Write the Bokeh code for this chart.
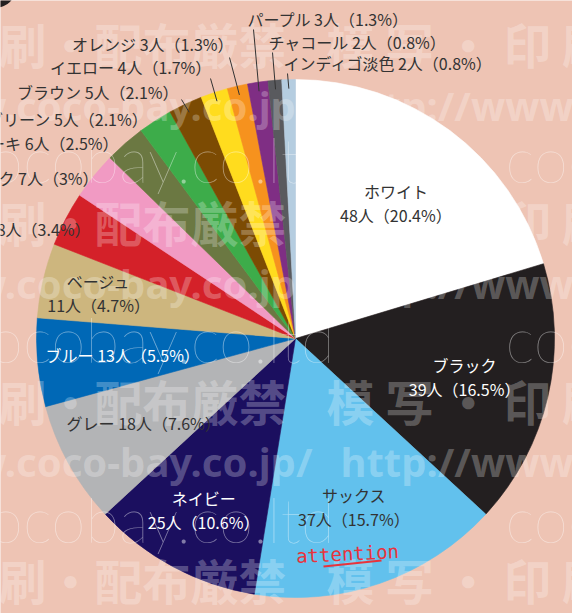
import numpy as np
from bokeh.plotting import figure
from bokeh.models import Range1d, ColumnDataSource
from bokeh.core.properties import value
from bokeh.embed import file_html
from bokeh.resources import INLINE

# ---------------- data ----------------
names = ["ホワイト", "ブラック", "サックス", "ネイビー", "グレー", "ブルー", "ベージュ",
         "レッド", "ピンク", "カーキ", "グリーン", "ブラウン", "イエロー", "オレンジ",
         "パープル", "チャコール", "インディゴ淡色"]
counts = [48, 39, 37, 25, 18, 13, 11, 8, 7, 6, 5, 5, 4, 3, 3, 2, 2]
pcts = [20.4, 16.5, 15.7, 10.6, 7.6, 5.5, 4.7, 3.4, 3, 2.5, 2.1, 2.1, 1.7, 1.3, 1.3, 0.8, 0.8]
colors = ["#ffffff", "#231f20", "#62c1ed", "#1b0f5f", "#b3b4b6", "#0068b6", "#cdb67e",
          "#d42129", "#f19ac3", "#6b7842", "#3dac4a", "#7c4b03", "#ffdc1e", "#f6921e",
          "#7f2e84", "#595a5e", "#b5cde0"]

# ---------------- layout ----------------
W, H = 572, 613
def Y(py):
    return H - py

CX, CY, R = 295, Y(338), 259
BG = "#eec4b4"
FONT = value("Noto Sans CJK JP")
DARK = "#333333"

p = figure(width=W, height=H, x_range=Range1d(0, W), y_range=Range1d(0, H),
           output_backend="svg", toolbar_location=None, x_axis_type=None, y_axis_type=None,
           min_border=0, background_fill_color=BG, border_fill_color=BG,
           outline_line_color=None)
p.xgrid.visible = False
p.ygrid.visible = False

total = float(sum(counts))
cum = np.concatenate([[0.0], np.cumsum(counts)]) / total
start = np.pi / 2 - 2 * np.pi * cum[:-1]
end = np.pi / 2 - 2 * np.pi * cum[1:]
mid = (start + end) / 2

src = ColumnDataSource(dict(start=start, end=end, color=colors))
p.wedge(x=CX, y=CY, radius=R, start_angle="start", end_angle="end", direction="clock",
        fill_color="color", line_color="color", line_width=0.6, source=src)

# small dark corner mark
p.scatter(x=[-4], y=[Y(-12)], size=38, fill_color="#231f20", line_color=None)

# ---------------- watermark ----------------
WM = "white"
WA = 0.26
for k in range(4):
    yy = Y(42 + 178.7 * k)
    p.text(x=[-50], y=[yy], text=["印刷・配布厳禁"], text_font=FONT, text_font_style="bold",
           text_font_size="48px", text_color=WM, text_alpha=WA, text_baseline="middle",
           text_align="left")
    p.text(x=[326], y=[yy], text=["模 写 ・ 印 刷"], text_font=FONT, text_font_style="bold",
           text_font_size="48px", text_color=WM, text_alpha=WA, text_baseline="middle",
           text_align="left")
for k in range(3):
    yy = Y(105 + 178 * k)
    p.text(x=[312], y=[yy], text=["www.coco-bay.co.jp/"], text_font=value("Noto Sans"),
           text_font_style="bold", text_font_size="40px", text_color=WM, text_alpha=WA,
           text_baseline="middle", text_align="right")
    p.text(x=[340], y=[yy], text=["http://www.coco"], text_font=value("Noto Sans"),
           text_font_style="bold", text_font_size="40px", text_color=WM, text_alpha=WA,
           text_baseline="middle", text_align="left")
for k in range(3):
    yy = Y(158 + 180 * k)
    for x0 in (-40, 505):
        p.text(x=[x0], y=[yy], text=["cocobay.co.ltd"], text_font=value("Lato Hairline"),
               text_font_size="62px", text_color=WM, text_alpha=0.45,
               text_baseline="middle", text_align="left")

# ---------------- inside labels ----------------
def fmt(i):
    return f"{counts[i]}人（{pcts[i]:g}%）"

inside_r = [0.65, 0.67, 0.69, 0.75, 0.67, 0.67, 0.78]
inside_two_lines = [True, True, True, True, False, False, True]
inside_color = [DARK, "white", DARK, "white", DARK, "white", DARK]
for i, rf in enumerate(inside_r):
    lx = CX + rf * R * np.cos(mid[i])
    ly = CY + rf * R * np.sin(mid[i])
    if inside_two_lines[i]:
        p.text(x=[lx], y=[ly + 12], text=[names[i]], text_font=FONT, text_font_size="16px",
               text_color=inside_color[i], text_align="center", text_baseline="middle")
        p.text(x=[lx], y=[ly - 12], text=[fmt(i)], text_font=FONT, text_font_size="16px",
               text_color=inside_color[i], text_align="center", text_baseline="middle")
    else:
        p.text(x=[lx], y=[ly], text=[names[i] + " " + fmt(i)], text_font=FONT,
               text_font_size="16px", text_color=inside_color[i], text_align="center",
               text_baseline="middle")

# ---------------- outside labels ----------------
# (page x, page y, align, leader end)
outside = {
    7: (90, 228, "right", None),
    8: (98, 177, "right", None),
    9: (118, 142, "right", None),
    10: (148, 118, "right", None),
    11: (178, 91, "right", (181, 99)),
    12: (211, 66, "right", (210, 78)),
    13: (233, 43, "right", (229, 57)),
    14: (247, 18, "left", (253, 29)),
    15: (268, 41, "left", (272, 52)),
    16: (283, 62, "left", (287, 73)),
}
for i, (tx, ty, al, lead) in outside.items():
    p.text(x=[tx], y=[Y(ty)], text=[names[i] + " " + fmt(i)], text_font=FONT,
           text_font_size="16px", text_color=DARK, text_align=al, text_baseline="middle")
    if lead is not None:
        x_in = CX + 0.965 * R * np.cos(mid[i])
        y_in = CY + 0.965 * R * np.sin(mid[i])
        p.line(x=[lead[0], x_in], y=[Y(lead[1]), y_in], line_color=DARK, line_width=1)

# ---------------- attention note ----------------
p.text(x=[347], y=[Y(553)], text=["attention"], text_font=value("DejaVu Sans Mono"),
       text_font_size="19px", text_color="#e8333c", text_align="center",
       text_baseline="middle", angle=0.05)
p.line(x=[323, 381], y=[Y(566), Y(560)], line_color="#e8333c", line_width=2)

open("out.html", "w").write(file_html(p, INLINE))
